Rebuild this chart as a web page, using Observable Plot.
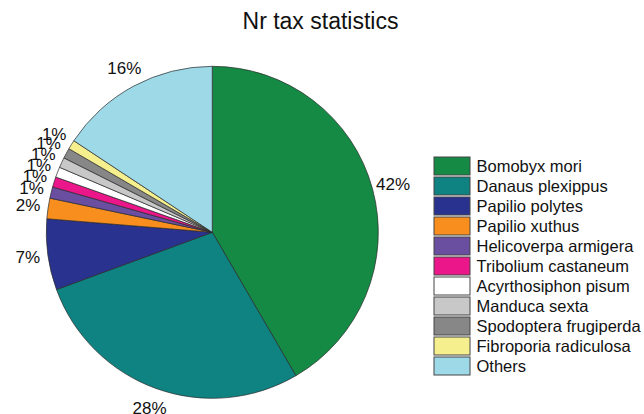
<!DOCTYPE html>
<html><head><meta charset="utf-8">
<script src="https://cdn.jsdelivr.net/npm/d3@7"></script>
<script src="https://cdn.jsdelivr.net/npm/@observablehq/plot@0.6"></script>
<style>
body{margin:0;background:#fff;font-family:"Liberation Sans",Arial,sans-serif;}
#wrap{position:relative;width:644px;height:414px;overflow:hidden;background:#fff;}
#title{height:46px;box-sizing:border-box;padding-top:10px;font-size:23px;line-height:1;text-align:center;padding-right:3px;color:#111;}
#legend{position:absolute;left:433px;top:156.2px;}
svg{overflow:visible;}
</style></head><body>
<div id="wrap"><div id="title">Nr tax statistics</div><div id="chart"></div><div id="legend"></div></div>
<script>
const species = ["Bomobyx mori","Danaus plexippus","Papilio polytes","Papilio xuthus","Helicoverpa armigera","Tribolium castaneum","Acyrthosiphon pisum","Manduca sexta","Spodoptera frugiperda","Fibroporia radiculosa","Others"];
const shares = [41.6, 27.8, 6.9, 2.0, 1.1, 1.0, 1.0, 1.0, 1.0, 0.9, 15.7];
const shareLabels = ["42%","28%","7%","2%","1%","1%","1%","1%","1%","1%","16%"];
const colors = ["#148a45","#0e8382","#2a3290","#f78e1e","#6a4ea0","#ea168a","#ffffff","#c8c8c8","#878787","#f5ef8d","#9dd9e7"];

const data = species.map((s, i) => ({species: s, share: shares[i], label: shareLabels[i]}));
const color = Plot.scale({color: {type: "ordinal", domain: species, range: colors}});
const arcs = d3.pie().sort(null).value(d => d.share)(data);
const labelR = 1.125;
const labelData = arcs.map(a => {
  const m = (a.startAngle + a.endAngle) / 2;
  return {label: a.data.label, x: labelR * Math.sin(m), y: labelR * Math.cos(m)};
});

const chart = Plot.plot({
  width: 644, height: 368,
  marginLeft: 46.3, marginRight: 265.7, marginTop: 20.3, marginBottom: 15.7,
  x: {domain: [-1, 1], axis: null},
  y: {domain: [-1, 1], axis: null},
  style: {fontFamily: "Liberation Sans, Arial, sans-serif", background: "#fff", overflow: "visible"},
  marks: [
    (index, scales) => {
      const cx = scales.x(0), cy = scales.y(0), r = scales.x(1) - cx;
      const g = d3.create("svg:g").attr("transform", `translate(${cx},${cy})`);
      g.selectAll("path").data(arcs).join("path")
        .attr("d", d3.arc().innerRadius(0).outerRadius(r))
        .attr("fill", d => color.apply(d.data.species))
        .attr("stroke", "#2a2a2a").attr("stroke-width", 0.7).attr("stroke-linejoin", "round");
      return g.node();
    },
    Plot.text(labelData, {x: "x", y: "y", text: "label", fontSize: 17, fill: "#111"})
  ]
});
document.getElementById("chart").append(chart);

const legend = Plot.plot({
  width: 211, height: 220,
  marginLeft: 1, marginRight: 174, marginTop: 0, marginBottom: 0,
  x: {type: "band", domain: ["s"], padding: 0, axis: null},
  y: {type: "band", domain: species, paddingInner: 0.11, paddingOuter: 0.055, axis: null},
  color: {domain: species, range: colors},
  style: {fontFamily: "Liberation Sans, Arial, sans-serif", background: "transparent", overflow: "visible"},
  marks: [
    Plot.cell(species, {x: () => "s", y: d => d, fill: d => d, stroke: "#444", strokeWidth: 1, inset: 0}),
    Plot.text(species, {x: () => "s", y: d => d, text: d => d, textAnchor: "start", dx: 24, fontSize: 16.5, fill: "#111"})
  ]
});
document.getElementById("legend").append(legend);
</script>
</body></html>
